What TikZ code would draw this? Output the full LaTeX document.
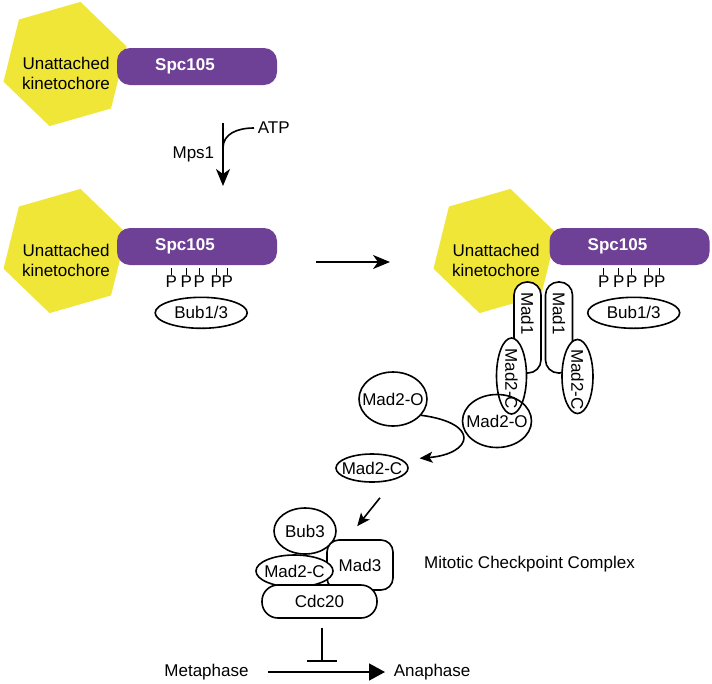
\documentclass[tikz,border=0pt]{standalone}
\usepackage{fontspec}
\setmainfont{Liberation Sans}
\usetikzlibrary{arrows.meta,shapes.geometric}
\definecolor{kinyellow}{RGB}{240,230,56}
\definecolor{spcpurple}{RGB}{110,64,150}

\begin{document}
\begin{tikzpicture}[x=1pt,y=-1pt,font=\fontsize{17}{20}\selectfont,line width=1.6pt,
   >={Stealth[length=17pt,width=14pt,inset=5pt]},
   txt/.style={inner sep=0pt},
   kinlabel/.style={align=center,inner sep=0pt},
   spcbar/.style={fill=spcpurple,rounded corners=13pt,minimum width=160pt,minimum height=37pt,inner sep=0pt},
   spcname/.style={text=white,font=\fontsize{17}{20}\selectfont\bfseries},
   oval/.style={ellipse,draw,fill=white,inner sep=0pt},
   pill/.style={rectangle,draw,fill=white,rounded corners=13pt,inner sep=0pt},
   smallarr/.style={-{Stealth[length=13pt,width=11pt,inset=3pt]}}]
   \useasboundingbox (0,0) rectangle (712,683);
% Kinetochores with Spc105
   \foreach \n/\hx/\hy/\bx/\by in {A/65/64/197/66.5,B/65/251/197/246.5,C/495/251/629.5/246.5}{
      \fill[kinyellow,shift={(\hx,\hy)}] (44:64) -- (104:64) -- (164:64) -- (224:64) -- (284:64) -- (344:64) -- cycle;
      \node[kinlabel] (kt\n) at (\hx+1,\hy+9) {Unattached\\kinetochore};
      \node[spcbar,label={[spcname,xshift=-12pt]center:Spc105}] (spc\n) at (\bx,\by) {};
   }
% Phosphorylated sites and Bub1/3
   \foreach \n in {B,C}{
      \foreach \i/\dx in {1/55,2/70,3/83,4/100,5/111}{
         \node[txt,anchor=north] (p\n\i) at ([shift={(\dx,9)}]spc\n.south west) {P};
         \draw[line width=1.3pt,shorten >=2pt] (p\n\i.north) -- (p\n\i.north |- spc\n.south);
      }
      \node[oval,minimum width=92pt,minimum height=31pt,label=center:Bub1/3] (bub\n) at ([shift={(85,47)}]spc\n.south west) {};
   }
% Mps1 step
   \coordinate (mpsS) at (223,123);
   \coordinate (mpsJ) at (223,148);
   \coordinate (mpsE) at (223,186);
   \draw[->] (mpsS) -- (mpsE);
   \node[txt,anchor=east] (mps1) at (215,154) {Mps1};
   \node[txt,anchor=west] (atp) at (257,128) {ATP};
   \draw[shorten <=3pt] (atp.west) .. controls +(-20,0) and +(0,-14) .. (mpsJ);
% Recruitment
   \coordinate (moveS) at (316,262);
   \coordinate (moveE) at (390,262);
   \draw[->] (moveS) -- (moveE);
% Mad1 dimer with Mad2
   \node[pill,minimum width=27pt,minimum height=91pt] (mad1L) at (527.5,327.5) {};
   \node[pill,minimum width=27pt,minimum height=91pt] (mad1R) at (559,327.5) {};
   \node[txt,rotate=-90] (mad1Lt) at ([yshift=14pt]mad1L.center) {Mad1};
   \node[txt,rotate=-90] (mad1Rt) at ([yshift=14pt]mad1R.center) {Mad1};
   \node[oval,minimum width=30pt,minimum height=76pt] (m2cL) at (511.5,376) {};
   \node[oval,minimum width=31pt,minimum height=74pt] (m2cR) at (577.5,376.5) {};
   \node[txt,rotate=-90] (m2cLt) at ([yshift=-3pt]m2cL.center) {Mad2-C};
   \node[txt,rotate=-90] (m2cRt) at ([yshift=-3pt]m2cR.center) {Mad2-C};
   \node[oval,fill=none,minimum width=69pt,minimum height=53pt,label=center:Mad2-O] (m2oK) at (497,421) {};
% Free Mad2
   \node[oval,minimum width=68pt,minimum height=54pt,label=center:Mad2-O] (m2oF) at (393,399) {};
   \node[oval,minimum width=72pt,minimum height=28pt,label=center:Mad2-C] (m2cF) at (372,468) {};
   \draw[smallarr,shorten >=17pt] (m2oF.-30) .. controls +(60,8) and +(70,-6) .. (m2cF.15);
% Mitotic Checkpoint Complex
   \node[oval,minimum width=62pt,minimum height=46pt,label=center:Bub3] (bub3) at (305,531) {};
   \node[pill,rounded corners=12pt,minimum width=66pt,minimum height=50pt] (mad3) at (360,565) {Mad3};
   \node[oval,minimum width=77pt,minimum height=32pt,label=center:Mad2-C] (m2cX) at (294.5,571) {};
   \node[pill,rounded corners=16pt,minimum width=115pt,minimum height=33pt] (cdc20) at (319.5,601.5) {Cdc20};
   \draw[smallarr] ([shift={(8,15)}]m2cF.south) -- ([shift={(31,-13)}]mad3.north west);
   \node[txt] (mcc) at (529.5,564) {Mitotic Checkpoint Complex};
% Metaphase to anaphase
   \node[txt] (meta) at (206.5,672) {Metaphase};
   \node[txt,anchor=west] (ana) at (393,672) {Anaphase};
   \draw[-{Triangle[length=16pt,width=17pt]},shorten <=19pt,shorten >=8pt] (meta) -- (ana);
   \coordinate (blk) at (322,662);
   \draw[-{Bar[width=30pt]},shorten <=9pt] (blk |- cdc20.south) -- (blk);
\end{tikzpicture}
\end{document}
